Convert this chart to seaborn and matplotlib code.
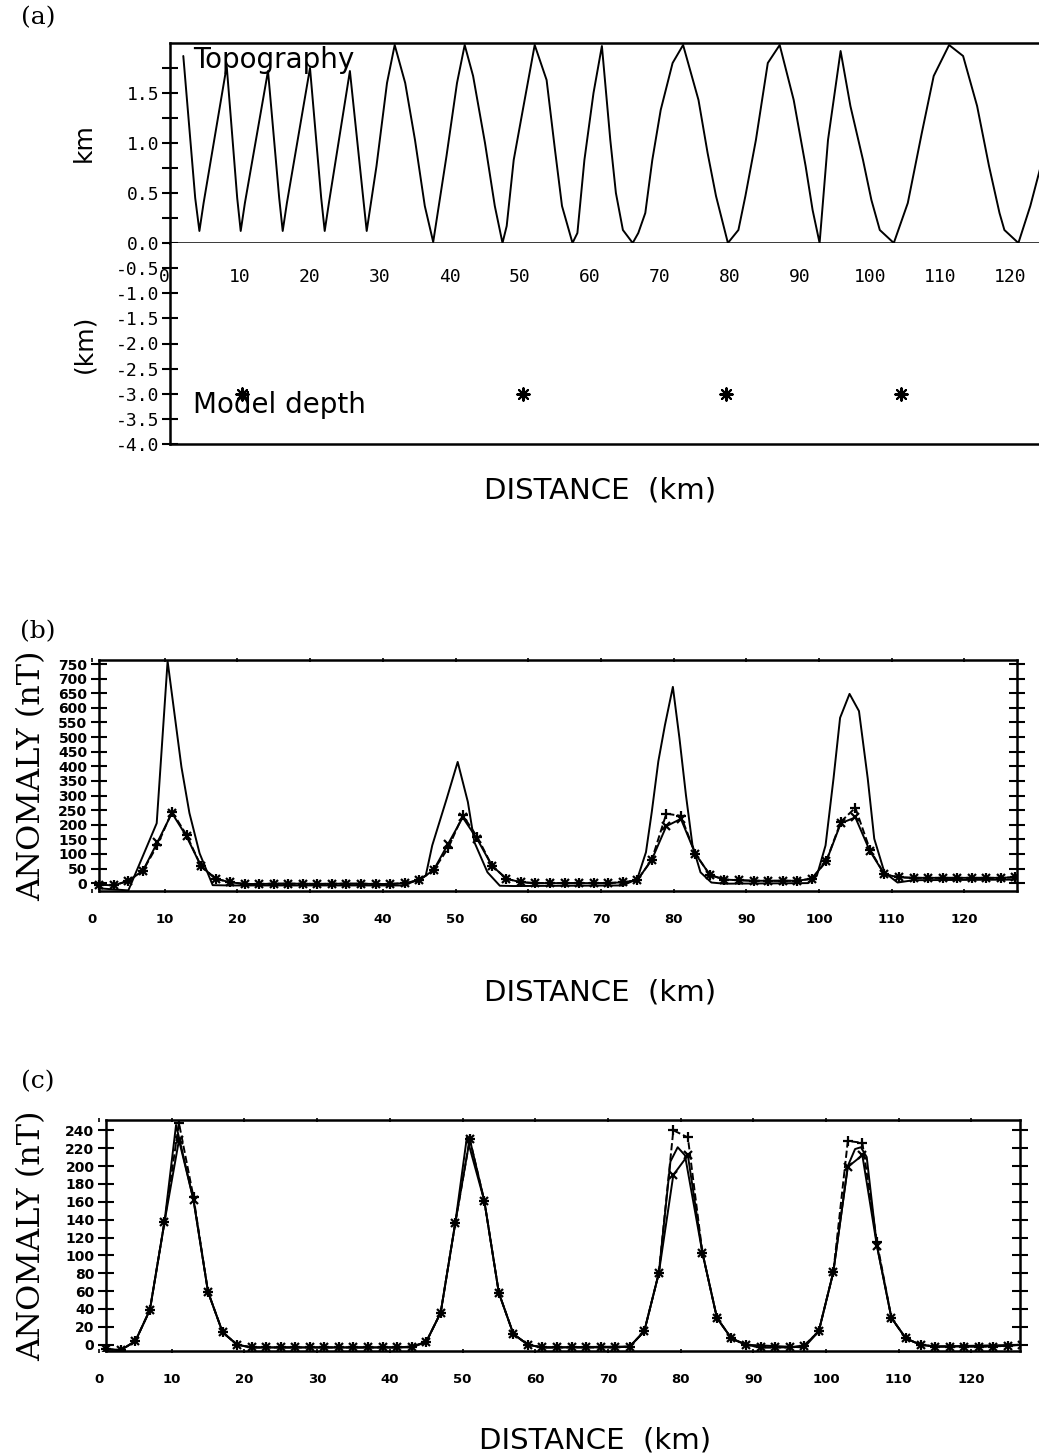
import matplotlib
matplotlib.use("Agg")
import matplotlib.pyplot as plt
import seaborn as sns

# ---------------------------------------------------------------- data
# (a) topography along the profile (distance km, height km)
topo_dist = [1.9, 3.6, 4.2, 4.8, 8.1, 9.6, 10.1, 10.7, 14.0, 15.6, 16.1, 16.7,
             20.0, 21.6, 22.1, 22.7, 25.7, 27.6, 28.1, 29.5, 31.0, 32.1, 33.6,
             35.0, 36.4, 37.6, 39.5, 41.0, 42.1, 43.3, 45.0, 46.4, 47.5, 48.1,
             49.1, 50.4, 52.1, 53.8, 55.0, 56.0, 57.5, 58.2, 59.2, 60.5, 61.7,
             62.9, 63.7, 64.7, 66.1, 66.9, 67.9, 68.9, 70.1, 71.8, 73.3, 75.5,
             76.8, 78.0, 79.7, 81.2, 82.2, 83.7, 85.4, 87.1, 89.1, 90.8, 91.8,
             92.8, 94.0, 95.8, 97.2, 99.0, 100.2, 101.4, 103.4, 105.4, 107.4,
             109.1, 111.3, 113.3, 115.3, 117.0, 118.5, 119.2, 121.2, 122.9, 124.4]
topo_height = [1.87, 0.45, 0.12, 0.40, 1.77, 0.45, 0.12, 0.40, 1.72, 0.45, 0.12, 0.40,
               1.75, 0.45, 0.12, 0.40, 1.72, 0.45, 0.12, 0.77, 1.60, 1.98, 1.60,
               1.03, 0.37, 0.01, 0.87, 1.60, 1.98, 1.67, 1.00, 0.37, 0.00, 0.17,
               0.83, 1.33, 1.98, 1.63, 0.93, 0.37, 0.00, 0.10, 0.83, 1.50, 1.97,
               1.03, 0.50, 0.13, 0.00, 0.10, 0.30, 0.83, 1.33, 1.80, 1.98, 1.43,
               0.90, 0.47, 0.00, 0.13, 0.47, 1.03, 1.80, 1.98, 1.43, 0.77, 0.33,
               0.00, 1.03, 1.92, 1.37, 0.83, 0.43, 0.13, 0.00, 0.40, 1.10,
               1.67, 1.98, 1.87, 1.37, 0.77, 0.30, 0.13, 0.00, 0.37, 0.77]

# (a) model body positions (km) and depth (km)
model_dist = [10.3, 50.4, 79.4, 104.4]
model_depth = [-3.0, -3.0, -3.0, -3.0]

# observation stations every 2 km
stations = list(range(1, 128, 2))

# (b) first anomaly profile (solid, no symbols)
b_solid_dist = [1, 5, 8.9, 10.4, 12.3, 13.4, 14.8, 16.6, 19,
                43, 45.9, 46.8, 48.8, 50.3, 51.7, 52.6, 54.4, 56.1, 58,
                73, 75.0, 76.2, 77.0, 77.9, 78.8, 79.9, 80.8, 81.7, 82.6, 83.7, 85.2, 87,
                98.5, 99.7, 100.9, 102.0, 102.9, 104.2, 105.5, 106.7, 107.6, 109.0, 110.8, 113, 127]
b_solid_val = [-18, -25, 205, 760, 398, 240, 102, -7, -8,
               -8, 25, 129, 290, 415, 278, 140, 37, -9, -10,
               -8, 14, 106, 244, 417, 540, 672, 497, 301, 129, 37, 2, -2,
               0, 25, 129, 359, 566, 648, 589, 359, 152, 37, 2, 10, 12]

# (b) profiles at the stations: crosses (solid) and pluses (dashed)
b_cross = [-5, -8, 8, 42, 140, 240, 160, 58, 15, 3,
           -3, -3, -2, -2, -2, -3, -2, -2, -2, -3,
           -3, 0, 10, 45, 135, 225, 150, 60, 15, 3,
           0, 0, 0, 0, 0, 0, 3, 10, 80, 195,
           220, 100, 28, 12, 10, 8, 8, 8, 8, 15,
           75, 205, 225, 110, 30, 20, 18, 18, 18, 18,
           18, 18, 18, 20]
b_plus = [-5, -8, 8, 42, 130, 245, 165, 58, 15, 3,
          -3, -3, -2, -2, -2, -3, -2, -2, -2, -3,
          -3, 0, 10, 45, 120, 232, 158, 60, 15, 3,
          0, 0, 0, 0, 0, 0, 3, 10, 80, 238,
          230, 100, 28, 12, 10, 8, 8, 8, 8, 15,
          75, 210, 258, 115, 30, 20, 18, 18, 18, 18,
          18, 18, 18, 20]

# (c) second anomaly profile (solid, no symbols)
c_solid_dist = [1, 3, 5, 7, 9, 10.6, 13, 15, 17, 19, 21,
                43, 45, 47, 49, 50.6, 53, 55, 57, 59, 61,
                73, 75, 77, 78.6, 79.6, 80.6, 83, 85, 87, 89,
                97, 99, 101, 103, 104.0, 104.8, 105.6, 107, 109, 111, 113, 115, 127]
c_solid_val = [-5, -6, 4, 39, 137, 246, 162, 59, 14, 0, -3,
               -3, 3, 36, 136, 232, 161, 58, 12, 0, -3,
               -2, 15, 80, 205, 221, 212, 103, 30, 7, 0,
               -3, 15, 81, 200, 219, 221, 210, 111, 30, 7, 0, -2, 0]

# (c) profiles at the stations: crosses (solid) and pluses (dashed)
c_cross = [-5, -6, 4, 39, 137, 229, 162, 59, 14, 0,
           -3, -3, -3, -3, -3, -3, -3, -3, -3, -3,
           -3, -2, 3, 36, 136, 230, 161, 58, 12, 0,
           -3, -3, -3, -3, -3, -3, -2, 15, 80, 190,
           212, 103, 30, 7, 0, -3, -3, -3, -1, 15,
           81, 199, 212, 111, 30, 7, 0, -2, -2, -2,
           -2, -2, -1, 0]
c_plus = [-5, -6, 4, 39, 137, 248, 165, 59, 14, 0,
          -3, -3, -3, -3, -3, -3, -3, -3, -3, -3,
          -3, -2, 3, 36, 136, 230, 161, 58, 12, 0,
          -3, -3, -3, -3, -3, -3, -2, 15, 80, 240,
          232, 103, 30, 7, 0, -3, -3, -3, -1, 15,
          81, 228, 226, 115, 30, 7, 0, -2, -2, -2,
          -2, -2, -1, 0]

km_ticks = list(range(0, 121, 10))
a_up_ticks = [0.0, 0.25, 0.5, 0.75, 1.0, 1.25, 1.5, 1.75]
a_up_labels = ["0.0", "", "0.5", "", "1.0", "", "1.5", ""]
a_low_ticks = [-0.5, -1.0, -1.5, -2.0, -2.5, -3.0, -3.5, -4.0]
a_low_labels = ["-0.5", "-1.0", "-1.5", "-2.0", "-2.5", "-3.0", "-3.5", "-4.0"]
b_ticks = list(range(0, 751, 50))
c_ticks = list(range(0, 241, 20))

# ---------------------------------------------------------------- style
sns.set_style("ticks")
plt.rcParams.update({
    "font.family": ["DejaVu Sans"],
    "axes.edgecolor": "black",
    "axes.linewidth": 1.8,
    "text.color": "black",
    "xtick.color": "black",
    "ytick.color": "black",
    "axes.labelcolor": "black",
})

W, H = 1039, 1455
fig = plt.figure(figsize=(W / 100, H / 100), dpi=100)


def box(left, top, right, bottom):
    return [left / W, 1 - bottom / H, (right - left) / W, (bottom - top) / H]


LW = 1.4
MONO = "DejaVu Sans Mono"
SERIF = "DejaVu Serif"

# ---------------------------------------------------------------- (a) top
ax_top = fig.add_axes(box(170, 43, 1039, 243))
sns.lineplot(x=topo_dist, y=topo_height, ax=ax_top, color="black",
             linewidth=LW, sort=False)
ax_top.set_xlim(0, 869 / 7)
ax_top.set_ylim(0, 2.0)
ax_top.set_yticks(a_up_ticks)
ax_top.set_yticklabels(a_up_labels, family=MONO, fontsize=13)
ax_top.set_xticks([])
ax_top.spines["right"].set_visible(False)
ax_top.tick_params(axis="y", direction="inout", length=11, width=1.5, pad=2)
ax_top.set_ylabel("km", fontsize=18)
ax_top.yaxis.set_label_coords(-0.085, 0.5)
ax_top.text(3.3, 1.83, "Topography", fontsize=20, va="center", ha="left")

# ---------------------------------------------------------------- (a) bottom
ax_low = fig.add_axes(box(170, 243, 1039, 444))
sns.scatterplot(x=model_dist, y=model_depth, ax=ax_low, marker=(8, 2, 0),
                s=80, color="black", edgecolor="black", linewidth=1.5)
ax_low.set_xlim(0, 869 / 7)
ax_low.set_ylim(-4.0, 0)
ax_low.set_yticks(a_low_ticks)
ax_low.set_yticklabels(a_low_labels, family=MONO, fontsize=13)
ax_low.set_xticks(km_ticks)
ax_low.set_xticklabels([str(v) for v in km_ticks], family=MONO, fontsize=13)
ax_low.spines["top"].set_visible(False)
ax_low.spines["right"].set_visible(False)
ax_low.tick_params(axis="y", direction="inout", length=11, width=1.5, pad=2)
ax_low.tick_params(axis="x", bottom=False, labelbottom=False, top=True,
                   labeltop=True, length=0, pad=-31)
for lab in ax_low.get_xticklabels():
    if lab.get_text() == "0":
        lab.set_horizontalalignment("right")
ax_low.set_ylabel("(km)", fontsize=18)
ax_low.yaxis.set_label_coords(-0.085, 0.5)
ax_low.text(3.3, -3.22, "Model depth", fontsize=20, va="center", ha="left")

fig.text(600 / W, 1 - 491 / H, "DISTANCE  (km)", fontsize=21,
         ha="center", va="center")
fig.text(38 / W, 1 - 18 / H, "(a)", family=SERIF, fontsize=18, ha="center", va="center")


# ---------------------------------------------------------------- (b), (c)
def anomaly_axes(ax, xmax, ymin, ymax, yticks):
    ax.set_xlim(0, xmax)
    ax.set_ylim(ymin, ymax)
    ax.spines["left"].set_position(("data", 1))
    ax.spines["top"].set_bounds(1, xmax)
    ax.spines["bottom"].set_bounds(1, xmax)
    ax.set_yticks(yticks)
    ax.set_yticklabels([str(v) for v in yticks], fontsize=10, fontweight="bold")
    ax.set_xticks(km_ticks)
    ax.set_xticklabels([str(v) for v in km_ticks], fontsize=9.5, fontweight="bold")
    ax.tick_params(axis="y", direction="inout", length=11, width=1.5,
                   right=True, pad=3)
    ax.tick_params(axis="x", direction="inout", length=3.5, width=1.2,
                   top=True, pad=14)
    ax.set_xlabel("")
    ax.set_ylabel("ANOMALY (nT)", family=SERIF, fontsize=23)


def draw_profiles(ax, sd, sv, cross, plus):
    sns.lineplot(x=sd, y=sv, ax=ax, color="black", linewidth=LW, sort=False)
    sns.lineplot(x=stations, y=cross, ax=ax, color="black", linewidth=LW,
                 marker="x", markersize=6, markeredgewidth=1.6,
                 markeredgecolor="black")
    sns.lineplot(x=stations, y=plus, ax=ax, color="black", linewidth=LW,
                 linestyle="--", marker="+", markersize=7,
                 markeredgewidth=1.6, markeredgecolor="black")


ax_b = fig.add_axes(box(92, 660, 1017, 891))
draw_profiles(ax_b, b_solid_dist, b_solid_val, b_cross, b_plus)
anomaly_axes(ax_b, 925 / 7.27, -27, 764, b_ticks)
ax_b.yaxis.set_label_coords(-0.049, 0.5)
fig.text(600 / W, 1 - 993 / H, "DISTANCE  (km)", fontsize=21,
         ha="center", va="center")
fig.text(38 / W, 1 - 632 / H, "(b)", family=SERIF, fontsize=18, ha="center", va="center")

ax_c = fig.add_axes(box(99, 1120, 1020, 1351))
draw_profiles(ax_c, c_solid_dist, c_solid_val, c_cross, c_plus)
anomaly_axes(ax_c, 921 / 7.27, -7, 251.5, c_ticks)
ax_c.yaxis.set_label_coords(-0.056, 0.5)
fig.text(595 / W, 1 - 1440 / H, "DISTANCE  (km)", fontsize=21,
         ha="center", va="center")
fig.text(38 / W, 1 - 1082 / H, "(c)", family=SERIF, fontsize=18, ha="center", va="center")

fig.savefig("out.png", dpi=100)
